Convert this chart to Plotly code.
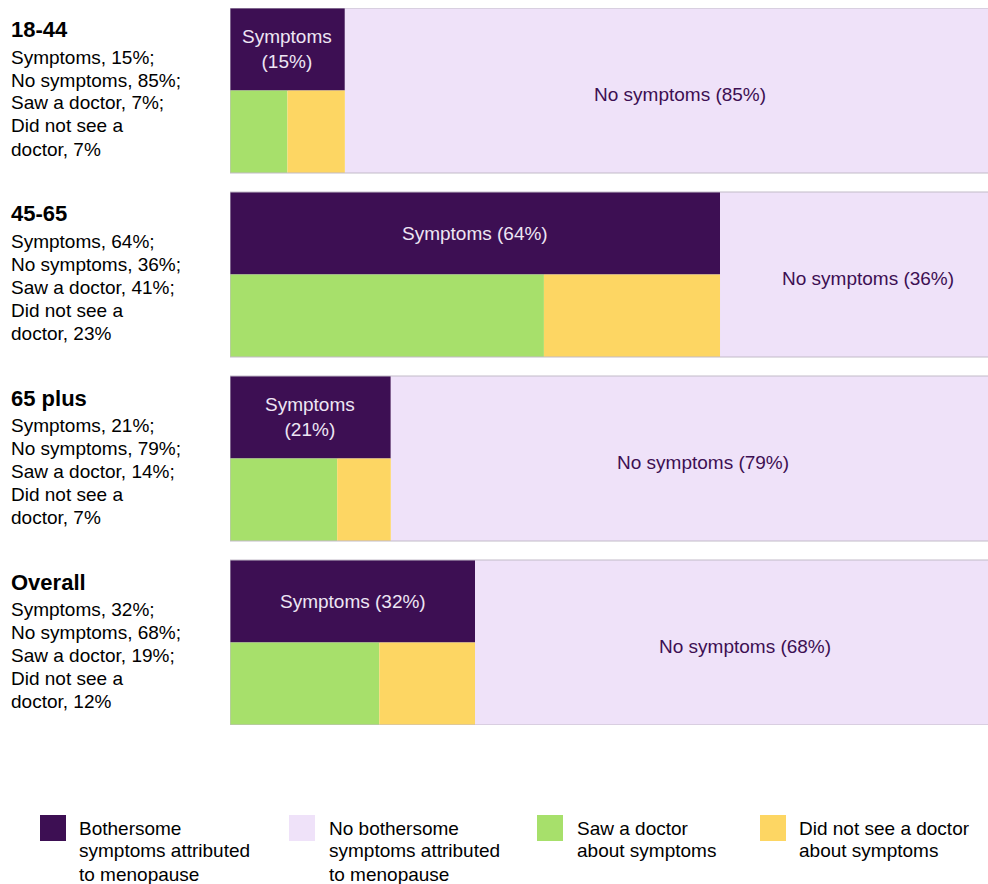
import plotly.graph_objects as go

groups = ["18-44", "45-65", "65 plus", "Overall"]
symptoms = [15, 64, 21, 32]
no_symptoms = [85, 36, 79, 68]
saw_doctor = [7, 41, 14, 19]
not_saw = [7, 23, 7, 12]
# drawn segment widths as seen in the bars
saw_bar = [7.5, 41, 14, 19.5]
not_bar = [7.5, 23, 7, 12.5]

legend_labels = [
    ["Bothersome", "symptoms attributed", "to menopause"],
    ["No bothersome", "symptoms attributed", "to menopause"],
    ["Saw a doctor", "about symptoms"],
    ["Did not see a doctor", "about symptoms"],
]

C_SYM = "#3D0F53"
C_NO = "#EFE2F9"
C_SAW = "#A7E06B"
C_NOT = "#FDD663"
FONT = "Liberation Sans, Arial, sans-serif"
FS = 19

W, H = 988, 884
L, T, R_PX, B_PX = 230, 8, 988, 725  # plot area, screen px
ROW = 82.5
PITCH = 184 / ROW  # group pitch in row units


def px_x(px):
    return (px - L) / (R_PX - L)


def px_y(py):
    return (B_PX - py) / (B_PX - T)


fig = go.Figure()
tops = [i * PITCH for i in range(len(groups))]

fig.add_trace(go.Bar(orientation="h", y=[t + 0.5 for t in tops], x=symptoms, base=[0] * 4,
                     width=1, marker=dict(color=C_SYM, line=dict(width=0)), hoverinfo="skip"))
fig.add_trace(go.Bar(orientation="h", y=[t + 1 for t in tops], x=no_symptoms, base=symptoms,
                     width=2, marker=dict(color=C_NO, line=dict(width=0)), hoverinfo="skip"))
fig.add_trace(go.Bar(orientation="h", y=[t + 1.5 for t in tops], x=saw_bar, base=[0] * 4,
                     width=1, marker=dict(color=C_SAW, line=dict(width=0)), hoverinfo="skip"))
fig.add_trace(go.Bar(orientation="h", y=[t + 1.5 for t in tops], x=not_bar, base=saw_bar,
                     width=1, marker=dict(color=C_NOT, line=dict(width=0)), hoverinfo="skip"))

shapes = []
annotations = []
for i, g in enumerate(groups):
    t = tops[i]
    shapes.append(dict(type="rect", xref="x", yref="y", x0=0, x1=100, y0=t, y1=t + 2,
                       line=dict(color="#C2BBC8", width=1), fillcolor="rgba(0,0,0,0)", layer="above"))
    s = symptoms[i]
    stext = f"Symptoms<br>({s}%)" if s < 25 else f"Symptoms ({s}%)"
    annotations.append(dict(xref="x", yref="y", x=s / 2, y=t + 0.5, text=stext, showarrow=False,
                            font=dict(family=FONT, size=FS, color="#EEE6F4"), align="center"))
    annotations.append(dict(xref="x", yref="y", x=s + no_symptoms[i] / 2 + 1.3, y=t + 1.05,
                            text=f"No symptoms ({no_symptoms[i]}%)", showarrow=False,
                            font=dict(family=FONT, size=FS, color="#3D0F53")))
    top_px = T + t * ROW
    annotations.append(dict(xref="paper", yref="paper", x=px_x(9), y=px_y(top_px + 22), xanchor="left",
                            yanchor="middle", text=f"<b>{g}</b>", showarrow=False,
                            font=dict(family=FONT, size=22, color="#000000")))
    lines = [f"Symptoms, {symptoms[i]}%;", f"No symptoms, {no_symptoms[i]}%;",
             f"Saw a doctor, {saw_doctor[i]}%;", "Did not see a", f"doctor, {not_saw[i]}%"]
    for k, ln in enumerate(lines):
        annotations.append(dict(xref="paper", yref="paper", x=px_x(9), y=px_y(top_px + 49 + 23 * k),
                                xanchor="left", yanchor="middle", text=ln, showarrow=False,
                                font=dict(family=FONT, size=FS, color="#000000")))

leg_sq_x = [40, 289, 537, 760]
leg_tx_x = [77, 327, 575, 797]
leg_cols = [C_SYM, C_NO, C_SAW, C_NOT]
for j in range(4):
    shapes.append(dict(type="rect", xref="paper", yref="paper", x0=px_x(leg_sq_x[j]), x1=px_x(leg_sq_x[j] + 26),
                       y0=px_y(841), y1=px_y(815), fillcolor=leg_cols[j], line=dict(width=0)))
    for k, ln in enumerate(legend_labels[j]):
        annotations.append(dict(xref="paper", yref="paper", x=px_x(leg_tx_x[j]), y=px_y(828 + 23 * k),
                                xanchor="left", yanchor="middle", text=ln, showarrow=False,
                                font=dict(family=FONT, size=FS, color="#000000")))

fig.update_layout(
    width=W, height=H,
    margin=dict(l=L, r=W - R_PX, t=T, b=H - B_PX, pad=0),
    barmode="overlay",
    showlegend=False,
    plot_bgcolor="white", paper_bgcolor="white",
    xaxis=dict(range=[0, 99], visible=False, fixedrange=True),
    yaxis=dict(range=[(B_PX - T) / ROW, 0], visible=False, fixedrange=True),
    shapes=shapes, annotations=annotations,
    font=dict(family=FONT),
)

fig.write_html(
    "out.html",
    config={"displayModeBar": False, "staticPlot": True},
    post_script="document.body.style.margin='0px';document.body.style.overflow='hidden';",
)
